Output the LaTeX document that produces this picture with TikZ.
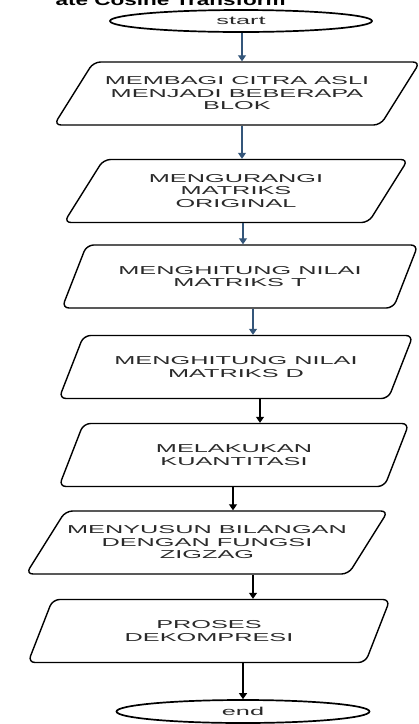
\documentclass[tikz,border=0pt]{standalone}
\usepackage{fontspec}
\newfontfamily\flowfont[FakeStretch=2.2]{Liberation Sans}
\newfontfamily\headfont[FakeStretch=1.5]{Liberation Sans}
\definecolor{arrblue}{HTML}{34567A}
\definecolor{txtgray}{HTML}{2A2A2A}
\usetikzlibrary{shapes.geometric, arrows.meta, positioning}
\tikzset{
  proc/.style = {draw, line width=1.4pt, trapezium, trapezium left angle=40, trapezium right angle=140,
    trapezium stretches body=true, rounded corners=7pt, minimum height=63pt, inner sep=0pt,
    align=center, text=txtgray, font=\flowfont\fontsize{11.5}{12.5}\selectfont},
  term/.style = {draw, line width=1.7pt, ellipse, inner sep=0pt, text=txtgray,
    font=\flowfont\fontsize{11.5}{12}\selectfont},
  arr/.style = {line width=1.2pt, -{Triangle[width=8pt,length=6pt]}}
}
\begin{document}
\begin{tikzpicture}[x=1pt, y=-1pt]
\useasboundingbox (0,0) rectangle (419,724);
\node[anchor=base west, font=\headfont\bfseries\fontsize{15}{15}\selectfont] (title) at (52,5.5) {ate Cosine Transform};

% start / end
\node[term, minimum width=262pt, minimum height=22pt] (start) at (241,21) {start};
\node[term, minimum width=253pt, minimum height=23pt] (end) at (243,711.5) {end};

% proses
\node[proc, minimum width=366pt] (p1) at (237,93.5) {MEMBAGI CITRA ASLI\\MENJADI BEBERAPA\\BLOK};
\node[proc, minimum width=344pt] (p2) at (236,191) {MENGURANGI\\MATRIKS\\ORIGINAL};
\node[proc, minimum width=356pt] (p3) at (240,276.5) {MENGHITUNG NILAI\\MATRIKS T};
\node[proc, minimum width=354pt] (p4) at (236,367) {MENGHITUNG NILAI\\MATRIKS D};
\node[proc, minimum width=350pt] (p5) at (234,455) {MELAKUKAN\\KUANTITASI};
\node[proc, minimum width=362pt] (p6) at (207,542.5) {MENYUSUN BILANGAN\\DENGAN FUNGSI\\ZIGZAG};
\node[proc, minimum width=362pt] (p7) at (209,631) {PROSES\\DEKOMPRESI};

% panah
\draw[arr, arrblue] (start.south -| 242,0) -- (p1.north -| 242,0);
\draw[arr, arrblue] (p1.south -| 242,0) -- (p2.north -| 242,0);
\draw[arr, arrblue] (p2.south -| 243,0) -- (p3.north -| 243,0);
\draw[arr, arrblue] (p3.south -| 253,0) -- (p4.north -| 253,0);
\draw[arr] (p4.south -| 260,0) -- (p5.north -| 260,0);
\draw[arr] (p5.south -| 233,0) -- (p6.north -| 233,0);
\draw[arr] (p6.south -| 253,0) -- (p7.north -| 253,0);
\draw[arr] (p7.south -| 243,0) -- (end.north -| 243,0);
\end{tikzpicture}
\end{document}
